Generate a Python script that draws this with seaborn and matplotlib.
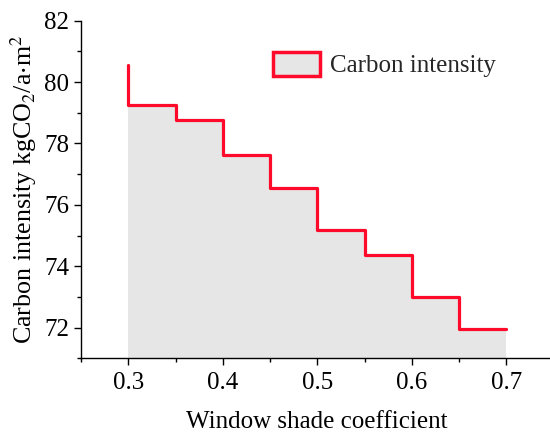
import matplotlib
matplotlib.use("Agg")
import matplotlib.pyplot as plt
from matplotlib.patches import Patch
from matplotlib.ticker import MultipleLocator
import seaborn as sns
import pandas as pd

# Window shade coefficient vs. carbon intensity
shade_coef = [0.30, 0.35, 0.40, 0.45, 0.50, 0.55, 0.60, 0.65, 0.70]
carbon_intensity = [80.55, 79.25, 78.78, 77.61, 76.56, 75.18, 74.38, 73.00, 71.95]

series_label = "Carbon intensity"
x_label = "Window shade coefficient"
y_label = "Carbon intensity kgCO$_2$/a$\\cdot$m$^2$"
x_ticks = [0.3, 0.4, 0.5, 0.6, 0.7]
y_ticks = [72, 74, 76, 78, 80, 82]

df = pd.DataFrame({"coef": shade_coef, "ci": carbon_intensity})

sns.set_theme(style="ticks")
plt.rcParams["font.family"] = ["Liberation Serif", "DejaVu Serif"]
plt.rcParams["mathtext.fontset"] = "stix"

red = "#ff0a2a"
fill_col = "#e6e6e6"
fs = 18

fig = plt.figure(figsize=(5.5, 4.38), dpi=100)
ax = fig.add_axes([81 / 550, 79.7 / 438, 472.5 / 550, 337.6 / 438])

ax.fill_between(df["coef"], df["ci"], 71, step="pre", color=fill_col, linewidth=0, zorder=1)
sns.lineplot(data=df, x="coef", y="ci", ax=ax, color=red, linewidth=2.3,
             drawstyle="steps-pre", zorder=3)

ax.set_xlim(0.25, 0.75)
ax.set_ylim(71, 82)
ax.set_xticks(x_ticks)
ax.set_xticklabels([f"{t:.1f}" for t in x_ticks])
ax.set_yticks(y_ticks)
ax.xaxis.set_minor_locator(MultipleLocator(0.05))
ax.yaxis.set_minor_locator(MultipleLocator(1))

for s in ["top", "right"]:
    ax.spines[s].set_visible(False)
for s in ["left", "bottom"]:
    ax.spines[s].set_color("black")
    ax.spines[s].set_linewidth(1.0)

ax.tick_params(axis="both", which="major", length=5, width=1, direction="out",
               labelsize=fs, colors="black", pad=3.5)
ax.tick_params(axis="both", which="minor", length=3, width=1, direction="out",
               colors="black")
ax.tick_params(axis="x", which="major", pad=5)

ax.set_xlabel(x_label, fontsize=fs, labelpad=12, color="black")
ax.set_ylabel(y_label, fontsize=18.7, labelpad=3.5, color="black")

handle = Patch(facecolor=fill_col, edgecolor=red, linewidth=2.5, label=series_label)
ax.legend(handles=[handle], loc="upper left", bbox_to_anchor=(0.406, 0.907),
          frameon=False, fontsize=fs, handlelength=1.88, handleheight=1.08,
          handletextpad=0.4, borderaxespad=0, borderpad=0)

fig.savefig("out.png", dpi=100)
